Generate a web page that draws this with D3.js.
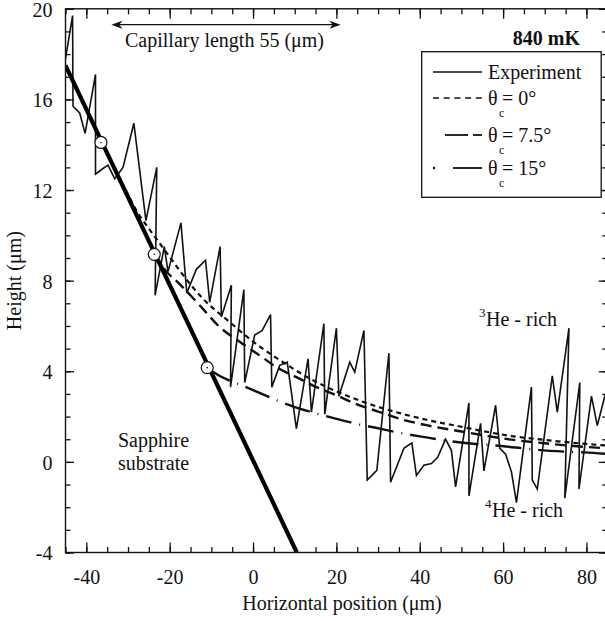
<!DOCTYPE html>
<html><head><meta charset="utf-8">
<script src="https://cdn.jsdelivr.net/npm/d3@7"></script>
<style>
body{margin:0;background:#fff}
svg text{font-family:"Liberation Serif","Times New Roman",Times,"DejaVu Serif",serif !important;fill:#111}
</style>
</head><body><svg id="c" width="605" height="621" font-family="Liberation Serif, Times New Roman, serif"></svg>
<script>
// ---------- data ----------
const xMajorTicks = [-40, -20, 0, 20, 40, 60, 80];
const yMajorTicks = [-4, 0, 4, 8, 12, 16, 20];

// experimental interface profile
const expX = [-45, -43.3, -43.2, -41.6, -40.3, -37.8, -37.8, -36.0, -34.8, -33.2, -31.2, -28.6, -25.7, -23.1, -23.5, -21.3, -20.4, -17.3, -15.9, -13.6, -11.4, -10.4, -7.9, -7.6, -5.2, -5.4, -2.2, -2.0, 0.4, 2.2, 4.2, 4.5, 6.4, 8.2, 10.4, 13.2, 14.0, 17.0, 17.2, 20.0, 20.6, 23.2, 24.4, 26.6, 27.4, 29.7, 32.6, 33.0, 36.2, 38.1, 39.2, 41.0, 42.8, 44.3, 46.2, 47.6, 48.6, 51.8, 51.8, 54.6, 55.4, 58.2, 59.2, 60.6, 62.0, 63.2, 66.8, 67.0, 68.2, 71.8, 73.0, 75.8, 74.8, 78.4, 78.2, 81.2, 82.6, 84.4, 86];
const expY = [17.8, 19.7, 15.7, 15.4, 14.5, 17.1, 12.7, 12.95, 13.1, 12.5, 13.0, 14.95, 10.65, 13.0, 7.35, 9.5, 8.4, 10.55, 7.45, 8.5, 8.9, 7.05, 9.5, 6.4, 7.8, 3.3, 7.6, 3.5, 5.6, 5.8, 6.5, 3.3, 4.26, 4.4, 1.47, 4.55, 2.2, 6.1, 2.1, 5.9, 2.9, 4.4, 3.96, 5.8, -0.8, -0.37, 4.8, -0.9, 0.6, 0.84, -0.6, -0.15, -0.07, 0.2, 1.0, 0.5, -1.1, 2.6, -1.5, 1.7, -0.4, 2.5, 0.6, 0.34, -0.44, -1.8, 3.3, -0.8, -1.2, 3.8, 2.2, 5.9, -1.6, 3.5, -1.2, 2.9, 1.6, 2.9, 2.5];

// calculated profiles for contact angles 0, 7.5 and 15 degrees
const c0X = [-36.5, -33, -30.4, -28, -25.2, -23.2, -20, -17.6, -12, -5.6, 0.8, 7.2, 14.4, 20.8, 27.2, 35.2, 41.6, 50, 56, 62, 70, 77, 85];
const c0Y = [14.1, 12.85, 11.95, 11.1, 10.35, 9.85, 9.05, 8.44, 7.2, 6.17, 5.2, 4.4, 3.6, 3.05, 2.6, 2.15, 1.86, 1.55, 1.33, 1.14, 0.97, 0.84, 0.72];
const c75X = [-23.7, -21, -17.6, -12.4, -8, -3.2, 0.8, 6.4, 10.4, 15.2, 20, 24.8, 30.4, 36, 41.6, 50, 56, 62, 70, 77, 85];
const c75Y = [9.16, 8.45, 7.85, 6.83, 5.95, 5.3, 4.8, 4.1, 3.74, 3.3, 2.94, 2.55, 2.2, 1.86, 1.62, 1.34, 1.15, 0.98, 0.82, 0.7, 0.6];
const c15X = [-11, -8.5, -6.4, -3, -0.4, 3.6, 10, 14, 20, 24.8, 30.4, 35.2, 41.6, 46, 52.8, 57.2, 64.8, 68.4, 75.2, 79.6, 85];
const c15Y = [4.16, 3.85, 3.65, 3.4, 3.2, 2.88, 2.42, 2.2, 1.9, 1.68, 1.47, 1.28, 1.08, 0.95, 0.8, 0.74, 0.6, 0.53, 0.45, 0.42, 0.35];

// sapphire substrate wall and contact points
const subX = [-45, 10.5];
const subY = [17.5, -4];
const cpX = [-36.5, -23.7, -11];
const cpY = [14.1, 9.16, 4.16];

// capillary length arrow (55 um)
const capX = [-34, 21];
const capY = 19.3;

const legendLabels = ["Experiment", "θ", "θ", "θ"];
const legendValues = ["", "= 0°", "= 7.5°", "= 15°"];

// ---------- drawing ----------
const FONT = '"Liberation Serif","Times New Roman",Times,"DejaVu Serif",serif';
const svg = d3.select("#c");
const L = 65.5, R = 607.3, T = 8.8, B = 552.5;
const x = d3.scaleLinear().domain([-45, 85]).range([L, R]);
const y = d3.scaleLinear().domain([-4, 20]).range([B, T]);

svg.append("defs").append("clipPath").attr("id", "clip")
  .append("rect").attr("x", L).attr("y", T).attr("width", R - L).attr("height", B - T);

const plot = svg.append("g").attr("clip-path", "url(#clip)");

const line = d3.line().x((d) => x(d[0])).y((d) => y(d[1]));
const smooth = d3.line().x((d) => x(d[0])).y((d) => y(d[1])).curve(d3.curveMonotoneX);
const zip = (a, b) => a.map((v, i) => [v, b[i]]);

// model curves
plot.append("path").datum(zip(c15X, c15Y)).attr("d", smooth)
  .attr("fill", "none").attr("stroke", "#111").attr("stroke-width", 2.4)
  .attr("stroke-dasharray", "26,8,1,8");
plot.append("path").datum(zip(c75X, c75Y)).attr("d", smooth)
  .attr("fill", "none").attr("stroke", "#111").attr("stroke-width", 2.4)
  .attr("stroke-dasharray", "11,6");
plot.append("path").datum(zip(c0X, c0Y)).attr("d", smooth)
  .attr("fill", "none").attr("stroke", "#111").attr("stroke-width", 2.2)
  .attr("stroke-dasharray", "5,4");

// experiment
plot.append("path").datum(zip(expX, expY)).attr("d", line)
  .attr("fill", "none").attr("stroke", "#111").attr("stroke-width", 1.6)
  .attr("stroke-linejoin", "miter");

// substrate
plot.append("path").datum(zip(subX, subY)).attr("d", line)
  .attr("fill", "none").attr("stroke", "#000").attr("stroke-width", 4.2);

// contact points
const cp = plot.selectAll("g.cp").data(zip(cpX, cpY)).enter().append("g")
  .attr("transform", (d) => `translate(${x(d[0])},${y(d[1])})`);
cp.append("circle").attr("r", 6).attr("fill", "#fff").attr("stroke", "#111").attr("stroke-width", 1.2);
cp.append("circle").attr("r", 0.8).attr("fill", "#111");

// axes
const fmt = (d) => String(d).replace("−", "-");
function styleAxis(g) {
  g.attr("font-family", FONT).attr("font-size", 20);
  g.select(".domain").remove();
  g.selectAll("line").attr("stroke", "#111").attr("stroke-width", 1.3);
  g.selectAll("text").attr("font-size", 20).attr("fill", "#111").attr("font-family", FONT);
}
const xMinor = d3.range(-45, 86, 5);
const yMinor = d3.range(-4, 21, 1);
svg.append("g").attr("transform", `translate(0,${B})`)
  .call(d3.axisBottom(x).tickValues(xMinor).tickSize(-5.5).tickFormat(""))
  .call(styleAxis);
svg.append("g").attr("transform", `translate(0,${B})`)
  .call(d3.axisBottom(x).tickValues(xMajorTicks).tickSize(-10).tickPadding(17).tickFormat(fmt))
  .call(styleAxis);
svg.append("g").attr("transform", `translate(0,${T})`)
  .call(d3.axisTop(x).tickValues(xMinor).tickSize(-5.5).tickFormat(""))
  .call(styleAxis);
svg.append("g").attr("transform", `translate(0,${T})`)
  .call(d3.axisTop(x).tickValues(xMajorTicks).tickSize(-10).tickFormat(""))
  .call(styleAxis);
svg.append("g").attr("transform", `translate(${L},0)`)
  .call(d3.axisLeft(y).tickValues(yMinor).tickSize(-5).tickFormat(""))
  .call(styleAxis);
svg.append("g").attr("transform", `translate(${L},0)`)
  .call(d3.axisLeft(y).tickValues(yMajorTicks).tickSize(-8.5).tickPadding(13).tickFormat(fmt))
  .call(styleAxis)
  .call((g) => g.selectAll("text").attr("dy", "0.37em"));
svg.append("g").attr("transform", `translate(${R},0)`)
  .call(d3.axisRight(y).tickValues(yMinor).tickSize(-5).tickFormat(""))
  .call(styleAxis);
svg.append("g").attr("transform", `translate(${R},0)`)
  .call(d3.axisRight(y).tickValues(yMajorTicks).tickSize(-8.5).tickFormat(""))
  .call(styleAxis);

svg.append("rect").attr("x", L).attr("y", T).attr("width", R - L).attr("height", B - T)
  .attr("fill", "none").attr("stroke", "#111").attr("stroke-width", 1.4);

const txt = (xx, yy, s, size, anchor) => svg.append("text").attr("x", xx).attr("y", yy)
  .attr("font-family", FONT).attr("font-size", size).attr("text-anchor", anchor || "start").text(s);

// axis titles
txt(342, 610, "Horizontal position (μm)", 20, "middle");
svg.append("text").attr("transform", `translate(21,${(T + B) / 2}) rotate(-90)`)
  .attr("font-family", FONT).attr("text-anchor", "middle").attr("font-size", 20).text("Height (μm)");

// capillary length arrow
const ay = y(capY);
svg.append("line").attr("x1", x(capX[0]) + 4).attr("x2", x(capX[1]) - 4)
  .attr("y1", ay).attr("y2", ay).attr("stroke", "#111").attr("stroke-width", 1.3);
const head = (tx, dir) => `M${tx},${ay} L${tx + dir * 11},${ay - 4} L${tx + dir * 8},${ay} L${tx + dir * 11},${ay + 4} Z`;
svg.append("path").attr("d", head(x(capX[0]), 1)).attr("fill", "#111");
svg.append("path").attr("d", head(x(capX[1]), -1)).attr("fill", "#111");
txt(125, 47, "Capillary length 55 (μm)", 20);

// region labels
txt(118, 447, "Sapphire", 20);
txt(118, 470, "substrate", 20);
txt(479, 317, "3", 13);
txt(486, 326, "He - rich", 20);
txt(485, 508, "4", 13);
txt(492, 517, "He - rich", 20);

// temperature label
txt(580, 45, "840 mK", 20, "end").attr("font-weight", "bold");

// legend
svg.append("rect").attr("x", 421.7).attr("y", 51.7).attr("width", 179.5).attr("height", 145.6)
  .attr("fill", "#fff").attr("stroke", "#111").attr("stroke-width", 1.3);
const rowsY = [72, 98, 135, 168];
svg.append("line").attr("x1", 433).attr("x2", 482).attr("y1", rowsY[0]).attr("y2", rowsY[0])
  .attr("stroke", "#111").attr("stroke-width", 1.5);
svg.append("line").attr("x1", 433).attr("x2", 482).attr("y1", rowsY[1]).attr("y2", rowsY[1])
  .attr("stroke", "#111").attr("stroke-width", 1.6).attr("stroke-dasharray", "6,4.7");
svg.append("line").attr("x1", 445).attr("x2", 468).attr("y1", rowsY[2]).attr("y2", rowsY[2])
  .attr("stroke", "#111").attr("stroke-width", 1.8);
svg.append("line").attr("x1", 473).attr("x2", 482).attr("y1", rowsY[2]).attr("y2", rowsY[2])
  .attr("stroke", "#111").attr("stroke-width", 1.8);
svg.append("circle").attr("cx", 434).attr("cy", rowsY[3]).attr("r", 1.2).attr("fill", "#111");
svg.append("line").attr("x1", 453).attr("x2", 482).attr("y1", rowsY[3]).attr("y2", rowsY[3])
  .attr("stroke", "#111").attr("stroke-width", 1.8);
legendLabels.forEach((lab, i) => {
  txt(488, rowsY[i] + 6.5, lab, 20);
  if (i > 0) {
    txt(499, rowsY[i] + 18.5, "c", 12);
    txt(502, rowsY[i] + 6.5, legendValues[i], 20);
  }
});
</script>
</body></html>
